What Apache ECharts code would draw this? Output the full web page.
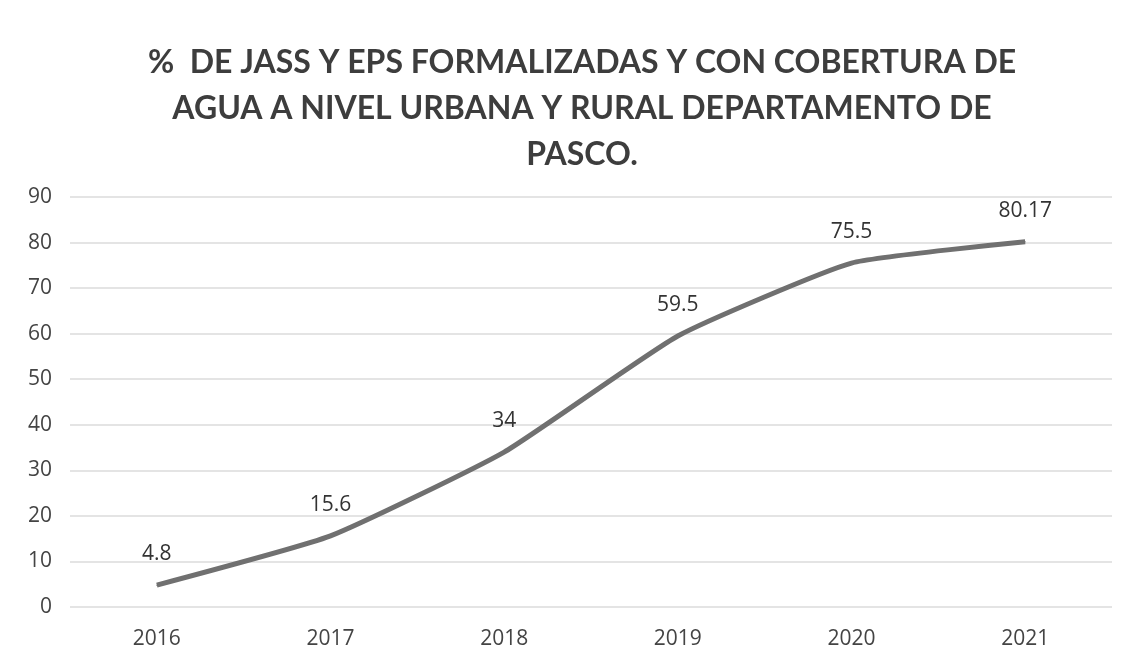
<!DOCTYPE html>
<html>
<head>
<meta charset="utf-8">
<script src="https://cdn.jsdelivr.net/npm/echarts@6/dist/echarts.min.js"></script>
<style>
  html, body { margin: 0; padding: 0; background: #fff; }
  #main { width: 1134px; height: 670px; }
</style>
</head>
<body>
<div id="main"></div>
<script>
// datos del grafico
var years = ['2016', '2017', '2018', '2019', '2020', '2021'];
var porcentaje = [4.8, 15.6, 34, 59.5, 75.5, 80.17];
var yTicks = [0, 90, 10]; // min, max, intervalo

var chart = echarts.init(document.getElementById('main'));

var option = {
    backgroundColor: '#fff',
    title: {
        text: '%  DE JASS Y EPS FORMALIZADAS Y CON COBERTURA DE\nAGUA A NIVEL URBANA Y RURAL DEPARTAMENTO DE\nPASCO.',
        left: 577,
        textAlign: 'center',
        top: 35,
        textStyle: {
            fontFamily: 'Lato',
            fontWeight: 'bold',
            fontSize: 32,
            lineHeight: 46,
            color: '#3d3d3d'
        }
    },
    grid: {
        left: 70,
        right: 22,
        top: 197,
        bottom: 63
    },
    xAxis: {
        type: 'category',
        data: years,
        boundaryGap: true,
        axisLine: { show: false },
        axisTick: { show: false },
        axisLabel: {
            margin: 22,
            fontFamily: 'Open Sans',
            fontSize: 21,
            color: '#444'
        }
    },
    yAxis: {
        type: 'value',
        min: yTicks[0],
        max: yTicks[1],
        interval: yTicks[2],
        axisLine: { show: false },
        axisTick: { show: false },
        axisLabel: {
            margin: 18,
            fontFamily: 'Open Sans',
            fontSize: 21,
            color: '#444'
        },
        splitLine: {
            lineStyle: { color: '#e4e4e4', width: 2 }
        }
    },
    series: [{
        type: 'line',
        data: porcentaje,
        symbol: 'circle',
        symbolSize: 1,
        showSymbol: true,
        smooth: 0.15,
        itemStyle: { color: '#707070' },
        lineStyle: { color: '#707070', width: 5 },
        label: {
            show: true,
            position: 'top',
            distance: 20,
            fontFamily: 'Open Sans',
            fontSize: 21,
            color: '#333'
        }
    }]
};

chart.setOption(option);
</script>
</body>
</html>
